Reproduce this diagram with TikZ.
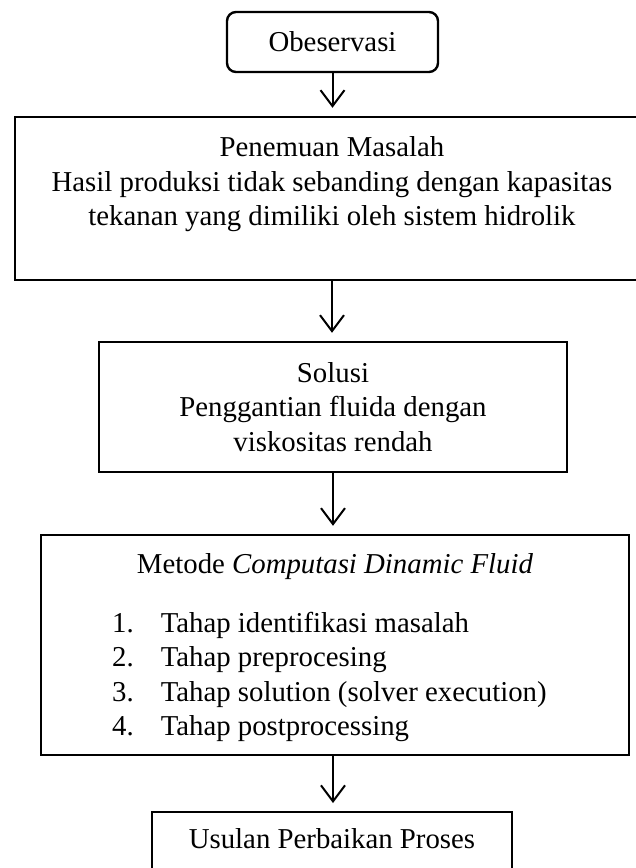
\documentclass[tikz,border=0pt]{standalone}
\usepackage{fontspec}
\setmainfont{Liberation Serif}
\usetikzlibrary{arrows.meta}
\tikzset{
  box/.style={draw, line width=2.4pt, align=center, inner sep=0pt},
  flow/.style={-{Straight Barb[length=16pt,width=24pt,line width=2pt]}, line width=2pt, shorten >=8pt}
}
\begin{document}
\begin{tikzpicture}[x=1pt,y=-1pt,font=\fontsize{28.8pt}{34.5pt}\selectfont]
    \useasboundingbox (0,0) rectangle (635,868);
    % boxes
    \node[box, rounded corners=9pt, minimum width=211pt, minimum height=60pt] (obs) at (332.5,42) {Obeservasi};
    \node[box, minimum width=634pt, minimum height=163pt] (masalah) at (332,198.5)
        {Penemuan Masalah\\Hasil produksi tidak sebanding dengan kapasitas\\tekanan yang dimiliki oleh sistem hidrolik\\~};
    \node[box, minimum width=468pt, minimum height=130pt] (solusi) at (333,407)
        {Solusi\\Penggantian fluida dengan\\viskositas rendah};
    \node[box, minimum width=588pt, minimum height=220pt] (metode) at (335,645) {};
    \node[anchor=base] (judul) at (335,573) {Metode \textit{Computasi Dinamic Fluid}};
    \node[anchor=base west, inner sep=0pt] (tahap) at (112,632)
        {\begin{tabular}[t]{@{}l@{\hspace{27pt}}l@{}}
         1. & Tahap identifikasi masalah\\
         2. & Tahap preprocesing\\
         3. & Tahap solution (solver execution)\\
         4. & Tahap postprocessing
         \end{tabular}};
    \node[box, minimum width=360pt, minimum height=80pt, anchor=north] (usulan) at (332,811) {};
    \node[anchor=base] (usulanteks) at (332,848) {Usulan Perbaikan Proses};
    % arrows
    \draw[flow] (obs.south) -- (obs.south |- masalah.north);
    \draw[flow] (masalah.south) -- (masalah.south |- solusi.north);
    \draw[flow] (solusi.south) -- (solusi.south |- metode.north);
    \draw[flow] (solusi.south |- metode.south) -- (solusi.south |- usulan.north);
\end{tikzpicture}
\end{document}
